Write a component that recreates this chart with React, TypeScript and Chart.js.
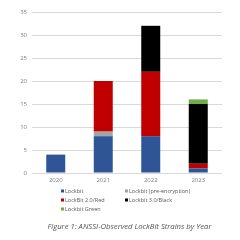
import React, { useEffect, useRef } from "react";
import { Chart, registerables } from "chart.js";

Chart.register(...registerables);

const years = ["2020", "2021", "2022", "2023"];
const lockbit = [4, 8, 8, 1];
const preEncryption = [0, 1, 0, 0];
const red = [0, 11, 14, 1];
const black = [0, 0, 10, 13];
const green = [0, 0, 0, 1];
const yTicks = [0, 5, 10, 15, 20, 25, 30, 35];
const seriesNames = [
  "Lockbit",
  "Lockbit (pre-encryption)",
  "LockBit 2.0/Red",
  "Lockbit 3.0/Black",
  "Lockbit Green",
];
const seriesColors = ["#2f5597", "#a5a5a5", "#c00000", "#000000", "#70ad47"];
const title = "Figure 1: ANSSI-Observed LockBit Strains by Year";

const legendPlugin = {
  id: "customLegend",
  afterDraw(chart: any) {
    const ctx = chart.ctx;
    ctx.save();
    const ds = chart.data.datasets;
    const colX = [61, 125];
    const rowY = [191, 200, 209];
    ctx.font = "5.5px 'Open Sans', sans-serif";
    ctx.textBaseline = "middle";
    ctx.textAlign = "left";
    ds.forEach((d: any, i: number) => {
      const col = i % 2;
      const row = Math.floor(i / 2);
      const x = colX[col];
      const y = rowY[row];
      ctx.fillStyle = d.backgroundColor;
      ctx.fillRect(x, y - 1.5, 3, 3);
      ctx.fillStyle = "#595959";
      ctx.fillText(d.label, x + 4, y);
    });
    ctx.font = "italic 7.7px 'Open Sans', sans-serif";
    ctx.fillStyle = "#555555";
    ctx.textAlign = "center";
    ctx.fillText(title, 129.5, 227);
    ctx.restore();
  },
};

export default function App() {
  const ref = useRef<HTMLCanvasElement>(null);
  useEffect(() => {
    if (!ref.current) return;
    const data = [lockbit, preEncryption, red, black, green];
    const chart = new Chart(ref.current, {
      type: "bar",
      data: {
        labels: years,
        datasets: data.map((vals, i) => ({
          label: seriesNames[i],
          data: vals,
          backgroundColor: seriesColors[i],
          borderWidth: 0,
          categoryPercentage: 1,
          barPercentage: 0.4,
        })),
      },
      options: {
        animation: false,
        responsive: false,
        maintainAspectRatio: false,
        layout: { padding: { left: 0, right: 18, top: 12, bottom: 55 } },
        plugins: {
          legend: { display: false },
          tooltip: { enabled: false },
          title: { display: false },
        },
        scales: {
          x: {
            stacked: true,
            grid: { display: false, drawTicks: false },
            border: { display: false },
            ticks: {
              color: "#7f7f7f",
              font: { size: 6, family: "'Open Sans', sans-serif" },
              padding: 4,
            },
            afterFit: (s: any) => {
              s.height = 12;
            },
          },
          y: {
            stacked: true,
            min: 0,
            max: 35,
            afterBuildTicks: (s: any) => {
              s.ticks = yTicks.map((v) => ({ value: v }));
            },
            grid: { color: "#d9d9d9", drawTicks: false, lineWidth: 1 },
            border: { display: false },
            ticks: {
              color: "#7f7f7f",
              font: { size: 6, family: "'Open Sans', sans-serif" },
              padding: 5,
            },
            afterFit: (s: any) => {
              s.width = 32;
            },
          },
        },
      },
      plugins: [legendPlugin],
    });
    return () => chart.destroy();
  }, []);
  return (
    <div style={{ position: "fixed", left: 0, top: 0, width: 240, height: 240, background: "#fff" }}>
      <canvas ref={ref} width={240} height={240} style={{ width: 240, height: 240 }} />
    </div>
  );
}
